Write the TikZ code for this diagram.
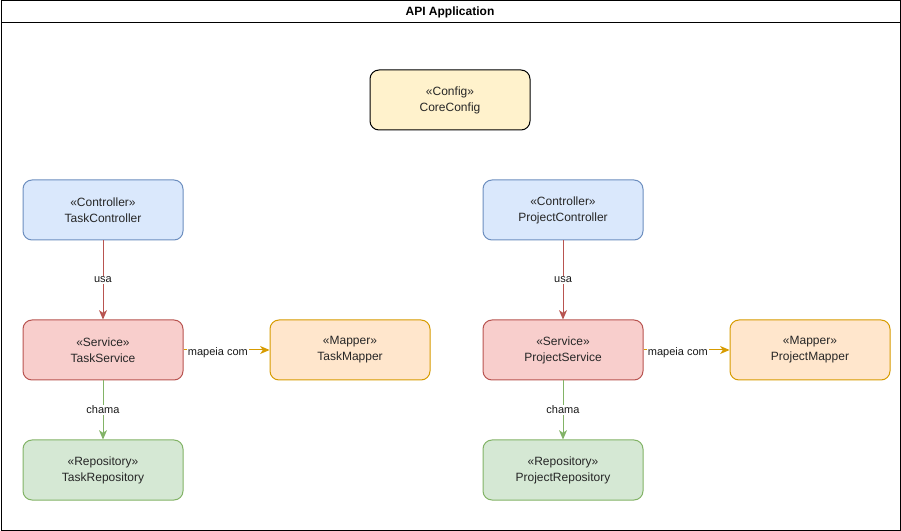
\documentclass[tikz,border=0pt]{standalone}
\usepackage{fontspec}
\setmainfont{Liberation Sans}
\usetikzlibrary{arrows.meta}
\definecolor{ctrlfill}{HTML}{DAE8FC}
\definecolor{ctrldraw}{HTML}{6C8EBF}
\definecolor{servfill}{HTML}{F8CECC}
\definecolor{servdraw}{HTML}{B85450}
\definecolor{mapfill}{HTML}{FFE6CC}
\definecolor{mapdraw}{HTML}{D79B00}
\definecolor{repofill}{HTML}{D5E8D4}
\definecolor{repodraw}{HTML}{82B366}
\definecolor{cfgfill}{HTML}{FFF2CC}
\begin{document}
\begin{tikzpicture}[x=0.75pt,y=-0.75pt,
  comp/.style={draw, line width=0.75pt, rounded corners=6.75pt, minimum width=120pt, minimum height=45pt,
    align=center, font=\fontsize{9pt}{12pt}\selectfont, text=black!85},
  ctrl/.style={comp, fill=ctrlfill, draw=ctrldraw},
  serv/.style={comp, fill=servfill, draw=servdraw},
  mapr/.style={comp, fill=mapfill, draw=mapdraw},
  repo/.style={comp, fill=repofill, draw=repodraw},
  cfg/.style={comp, fill=cfgfill, draw=black},
  link/.style={line width=0.75pt, -{Stealth[length=7pt,width=6pt,inset=2pt]}},
  lbl/.style={fill=white, inner sep=1pt, font=\fontsize{8.25pt}{10pt}\selectfont, text=black!90}]
\useasboundingbox (0,0) rectangle (901,531);
\draw[line width=0.75pt] (1,1) rectangle (900,530);
\draw[line width=0.75pt] (1,23) -- (900,23);
\node[font=\bfseries\fontsize{9pt}{11pt}\selectfont] (title) at (450,12) {API Application};
\node[cfg] (cfg) at (450,100) {«Config»\\CoreConfig};
\node[ctrl] (tc) at (103,210) {«Controller»\\TaskController};
\node[ctrl] (pc) at (563,210) {«Controller»\\ProjectController};
\node[serv] (ts) at (103,350) {«Service»\\TaskService};
\node[serv] (ps) at (563,350) {«Service»\\ProjectService};
\node[mapr] (tm) at (350,350) {«Mapper»\\TaskMapper};
\node[mapr] (pm) at (810,350) {«Mapper»\\ProjectMapper};
\node[repo] (tr) at (103,470) {«Repository»\\TaskRepository};
\node[repo] (pr) at (563,470) {«Repository»\\ProjectRepository};
\draw[link, servdraw] (tc) -- node[lbl] {usa} (ts);
\draw[link, servdraw] (pc) -- node[lbl] {usa} (ps);
\draw[link, mapdraw] (ts) -- node[lbl, pos=0.4, yshift=-2.25pt] {mapeia com} (tm);
\draw[link, mapdraw] (ps) -- node[lbl, pos=0.4, yshift=-2.25pt] {mapeia com} (pm);
\draw[link, repodraw] (ts) -- node[lbl] {chama} (tr);
\draw[link, repodraw] (ps) -- node[lbl] {chama} (pr);
\end{tikzpicture}
\end{document}
